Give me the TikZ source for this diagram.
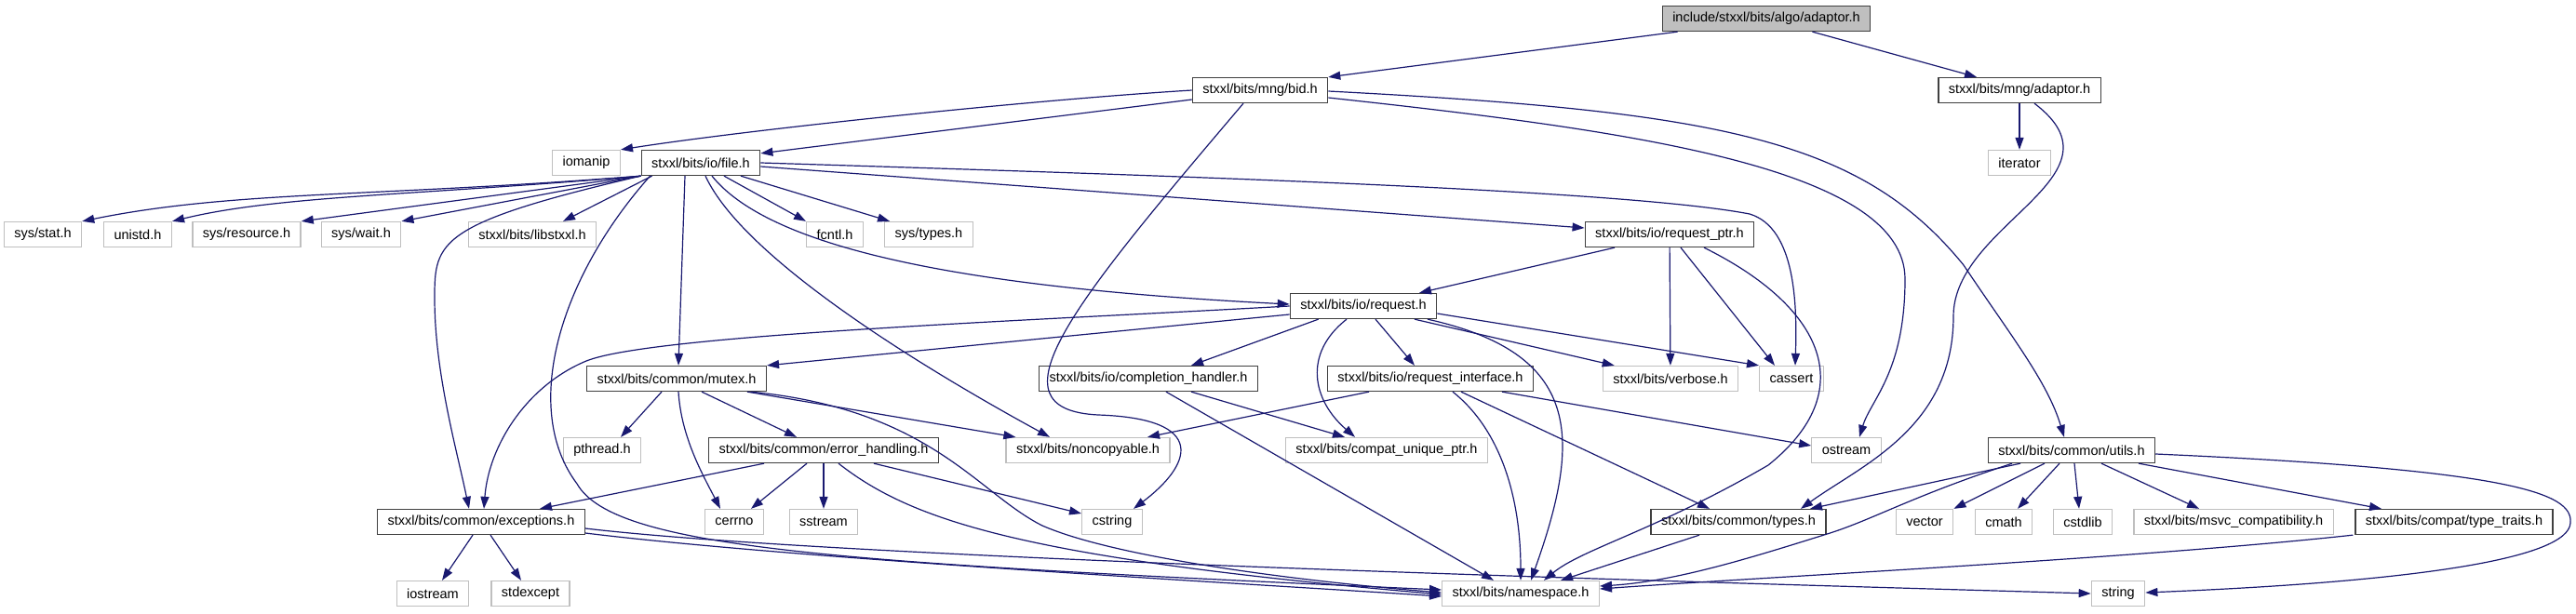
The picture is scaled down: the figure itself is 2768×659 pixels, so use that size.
\documentclass[tikz,border=0pt]{standalone}
\usepackage{fontspec}
\setmainfont{Liberation Sans}
\usetikzlibrary{arrows.meta}
\definecolor{edgeblue}{HTML}{191970}
\definecolor{extgray}{HTML}{BFBFBF}
\definecolor{docgray}{HTML}{404040}

\begin{document}
\begin{tikzpicture}[x=1pt, y=-1pt,
  box/.style={rectangle, minimum height=27pt, inner xsep=11pt, inner ysep=0pt,
    line width=1.3pt, font=\fontsize{14.5}{17}\selectfont},
  root/.style={box, draw=docgray, fill=extgray},
  doc/.style={box, draw=docgray, fill=white},
  ext/.style={box, draw=extgray, fill=white},
  dep/.style={draw=edgeblue, line width=1.2pt, -{Triangle[length=13pt, width=9pt]}}]
  \fill[white] (0,0) rectangle (2768,659);
  \useasboundingbox (0,0) rectangle (2768,659);

  % Rows of headers
  \node[root] (algo) at (1898,20) {include/stxxl/bits/algo/adaptor.h};
  \node[doc] (bid) at (1354,97) {stxxl/bits/mng/bid.h};
  \node[doc] (mng) at (2170,97) {stxxl/bits/mng/adaptor.h};
  \node[ext] (iomanip) at (630,175) {iomanip};
  \node[doc] (file) at (753,175) {stxxl/bits/io/file.h};
  \node[ext] (iterator) at (2170,175) {iterator};
  \node[ext] (stat) at (46,252) {sys/stat.h};
  \node[ext] (unistd) at (148,252) {unistd.h};
  \node[ext] (resource) at (265,252) {sys/resource.h};
  \node[ext] (wait) at (388,252) {sys/wait.h};
  \node[ext] (libstxxl) at (572,252) {stxxl/bits/libstxxl.h};
  \node[ext] (fcntl) at (897,252) {fcntl.h};
  \node[ext] (systypes) at (998,252) {sys/types.h};
  \node[doc] (requestptr) at (1794,252) {stxxl/bits/io/request\_ptr.h};
  \node[doc] (request) at (1465,329) {stxxl/bits/io/request.h};
  \node[doc] (mutex) at (727,407) {stxxl/bits/common/mutex.h};
  \node[doc] (completion) at (1234,407) {stxxl/bits/io/completion\_handler.h};
  \node[doc] (reqiface) at (1537,407) {stxxl/bits/io/request\_interface.h};
  \node[ext] (verbose) at (1795,407) {stxxl/bits/verbose.h};
  \node[ext] (cassert) at (1925,407) {cassert};
  \node[ext] (pthread) at (647,484) {pthread.h};
  \node[doc] (errhandling) at (885,484) {stxxl/bits/common/error\_handling.h};
  \node[ext] (noncopyable) at (1169,484) {stxxl/bits/noncopyable.h};
  \node[ext] (compatptr) at (1490,484) {stxxl/bits/compat\_unique\_ptr.h};
  \node[ext] (ostream) at (1984,484) {ostream};
  \node[doc] (utils) at (2226,484) {stxxl/bits/common/utils.h};
  \node[doc] (exceptions) at (517,561) {stxxl/bits/common/exceptions.h};
  \node[ext] (cerrno) at (789,561) {cerrno};
  \node[ext] (sstream) at (885,561) {sstream};
  \node[ext] (cstring) at (1195,561) {cstring};
  \node[doc] (types) at (1868,561) {stxxl/bits/common/types.h};
  \node[ext] (vector) at (2068,561) {vector};
  \node[ext] (cmath) at (2153,561) {cmath};
  \node[ext] (cstdlib) at (2238,561) {cstdlib};
  \node[ext] (msvc) at (2400,561) {stxxl/bits/msvc\_compatibility.h};
  \node[doc] (typetraits) at (2637,561) {stxxl/bits/compat/type\_traits.h};
  \node[ext] (iostream) at (465,638) {iostream};
  \node[ext] (stdexcept) at (570,638) {stdexcept};
  \node[ext] (namespace) at (1634,638) {stxxl/bits/namespace.h};
  \node[ext] (string) at (2276,638) {string};

  % algo/adaptor.h and mng
  \draw[dep] ([xshift=17pt]algo.south west) -- (bid.north east);
  \draw[dep] ([xshift=-63pt]algo.south east) -- ([xshift=-46pt]mng.north);
  \draw[dep] (bid.west) .. controls (1100,108) and (800,140) .. (iomanip.north east);
  \draw[dep] ([yshift=-10pt]bid.west) -- ([yshift=-4pt]file.north east);
  \draw[dep] ([xshift=-18pt]bid.south) .. controls (1150,330) and (1060,440) .. (1180,446)
    .. controls (1300,450) and (1280,500) .. ([xshift=23pt]cstring.north);
  \draw[dep] ([yshift=-8pt]bid.east) .. controls (1750,140) and (2047,180) .. (2047,300)
    .. controls (2047,400) and (2010,430) .. ([xshift=14pt]ostream.north);
  \draw[dep] ([yshift=-1pt]bid.east) .. controls (1850,120) and (2000,150) .. (2110,285)
    .. controls (2160,360) and (2200,410) .. ([xshift=-8pt]utils.north);
  \draw[dep] (mng) -- (iterator);
  \draw[dep] ([xshift=16pt]mng.south) .. controls (2290,190) and (2099,240) .. (2099,340)
    .. controls (2099,460) and (2000,500) .. ([xshift=67pt]types.north);

  % file.h
  \draw[dep] (file.south west) .. controls (400,212) and (250,205) .. (stat.north east);
  \draw[dep] (file.south west) .. controls (450,210) and (300,210) .. (unistd.north east);
  \draw[dep] (file.south west) -- (resource.north east);
  \draw[dep] (file.south west) -- (wait.north east);
  \draw[dep] ([xshift=12pt]file.south west) -- ([xshift=33pt]libstxxl.north);
  \draw[dep] ([xshift=25pt]file.south) -- (fcntl.north west);
  \draw[dep] ([xshift=43pt]file.south) -- ([xshift=6pt]systypes.north west);
  \draw[dep] ([yshift=-4pt]file.east) -- ([yshift=7pt]requestptr.west);
  \draw[dep] (file.east) .. controls (1300,190) and (1750,205) .. (1880,230)
    .. controls (1930,245) and (1931,330) .. ([xshift=4pt]cassert.north);
  \draw[dep] ([xshift=12pt]file.south) .. controls (830,270) and (1050,310) .. ([yshift=2pt]request.west);
  \draw[dep] ([xshift=-17pt]file.south) -- ([xshift=2pt]mutex.north);
  \draw[dep] (file.south west) .. controls (470,240) and (467,260) .. (467,320)
    .. controls (467,400) and (490,480) .. ([xshift=-13pt]exceptions.north);
  \draw[dep] ([xshift=5pt]file.south) .. controls (800,280) and (1000,400) .. ([xshift=-41pt]noncopyable.north);
  \draw[dep] ([xshift=10pt]file.south west) .. controls (600,300) and (560,440) .. (620,520)
    .. controls (660,590) and (900,605) .. ([yshift=4pt]namespace.west);

  % request_ptr.h
  \draw[dep] ([xshift=-59pt]requestptr.south) -- ([xshift=60pt]request.north);
  \draw[dep] (requestptr) -- (verbose);
  \draw[dep] ([xshift=12pt]requestptr.south) -- ([xshift=-18pt]cassert.north);
  \draw[dep] ([xshift=37pt]requestptr.south) .. controls (1960,330) and (2000,420) .. (1900,500)
    .. controls (1780,570) and (1700,590) .. ([xshift=25pt]namespace.north);

  % request.h
  \draw[dep] (request.west) .. controls (1100,345) and (700,360) .. (630,388)
    .. controls (565,415) and (525,480) .. ([xshift=3pt]exceptions.north);
  \draw[dep] ([yshift=-9pt]request.west) -- (mutex.north east);
  \draw[dep] ([xshift=31pt]request.south west) -- ([xshift=46pt]completion.north);
  \draw[dep] ([xshift=-18pt]request.south) .. controls (1400,380) and (1410,430) .. ([xshift=-34pt]compatptr.north);
  \draw[dep] ([xshift=13pt]request.south) -- ([xshift=-17pt]reqiface.north);
  \draw[dep] ([xshift=55pt]request.south) -- ([xshift=13pt]verbose.north west);
  \draw[dep] ([xshift=69pt]request.south) .. controls (1700,380) and (1700,470) .. ([xshift=11pt]namespace.north);
  \draw[dep] ([yshift=-8pt]request.east) -- (cassert.north west);

  % completion_handler.h and request_interface.h
  \draw[dep] ([xshift=46pt]completion.south) -- ([xshift=-45pt]compatptr.north);
  \draw[dep] ([xshift=19pt]completion.south) -- ([xshift=-29pt]namespace.north);
  \draw[dep] ([xshift=-66pt]reqiface.south) -- ([xshift=64pt]noncopyable.north);
  \draw[dep] ([xshift=24pt]reqiface.south) .. controls (1610,460) and (1634,530) .. (namespace.north);
  \draw[dep] ([xshift=33pt]reqiface.south) -- ([xshift=-31pt]types.north);
  \draw[dep] ([xshift=77pt]reqiface.south) -- ([yshift=5pt]ostream.west);

  % mutex.h
  \draw[dep] ([xshift=-16pt]mutex.south) -- ([xshift=20pt]pthread.north);
  \draw[dep] ([xshift=2pt]mutex.south) .. controls (732,470) and (755,510) .. ([xshift=-15pt]cerrno.north);
  \draw[dep] ([xshift=27pt]mutex.south) -- ([xshift=-29pt]errhandling.north);
  \draw[dep] ([xshift=76pt]mutex.south) -- ([xshift=11pt]noncopyable.north west);
  \draw[dep] ([xshift=80pt]mutex.south) .. controls (1000,440) and (1050,530) .. (1120,565)
    .. controls (1200,600) and (1400,625) .. ([yshift=1pt]namespace.west);

  % error_handling.h
  \draw[dep] ([xshift=-64pt]errhandling.south) -- ([xshift=63pt]exceptions.north);
  \draw[dep] ([xshift=-18pt]errhandling.south) -- ([xshift=18pt]cerrno.north);
  \draw[dep] (errhandling) -- (sstream);
  \draw[dep] ([xshift=16pt]errhandling.south) .. controls (980,560) and (1100,600) .. ([yshift=-1pt]namespace.west);
  \draw[dep] ([xshift=54pt]errhandling.south) -- ([yshift=9pt]cstring.west);

  % exceptions.h
  \draw[dep] ([xshift=-9pt]exceptions.south) -- ([xshift=10pt]iostream.north);
  \draw[dep] ([xshift=10pt]exceptions.south) -- ([xshift=-10pt]stdexcept.north);
  \draw[dep] ([yshift=-12pt]exceptions.east) .. controls (850,600) and (1300,625) .. ([yshift=-3pt]namespace.west);
  \draw[dep] ([yshift=-7pt]exceptions.east) .. controls (900,600) and (1800,625) .. (string.west);

  % utils.h, types.h, type_traits.h
  \draw[dep] ([xshift=-55pt]utils.south) -- ([xshift=77pt]types.north);
  \draw[dep] ([xshift=-64pt]utils.south) .. controls (2050,535) and (2010,560) .. (1960,575)
    .. controls (1880,600) and (1800,625) .. ([yshift=8pt]namespace.east);
  \draw[dep] ([xshift=-29pt]utils.south) -- (vector.north east);
  \draw[dep] ([xshift=-13pt]utils.south) -- ([xshift=15pt]cmath.north);
  \draw[dep] ([xshift=3pt]utils.south) -- ([xshift=-4pt]cstdlib.north);
  \draw[dep] ([xshift=32pt]utils.south) -- ([xshift=-37pt]msvc.north);
  \draw[dep] ([xshift=72pt]utils.south) -- ([xshift=-78pt]typetraits.north);
  \draw[dep] ([yshift=-4pt]utils.east) .. controls (2700,505) and (2765,530) .. (2762,562)
    .. controls (2760,600) and (2600,625) .. ([yshift=1pt]string.east);
  \draw[dep] ([xshift=-2pt]typetraits.south west) .. controls (2300,600) and (1900,620) .. ([yshift=5pt]namespace.east);
  \draw[dep] ([xshift=-42pt]types.south) -- ([xshift=43pt]namespace.north);
\end{tikzpicture}
\end{document}
